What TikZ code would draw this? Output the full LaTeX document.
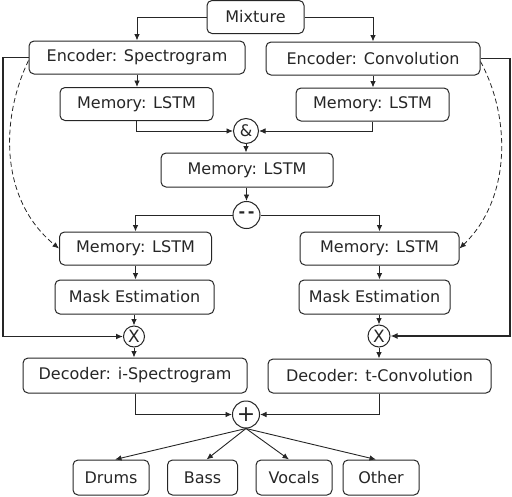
\documentclass[tikz,border=0pt]{standalone}
\usepackage{fontspec}
\setmainfont{DejaVu Sans}
\usetikzlibrary{arrows.meta}
\begin{document}
\begin{tikzpicture}[x=1pt,y=-1pt,
 box/.style={draw=black!85, rounded corners=5pt, line width=1pt, inner sep=0pt,
   font=\fontsize{16}{18}\selectfont, text=black!85},
 op/.style={draw=black!85, circle, line width=1pt, inner sep=0pt,
   font=\fontsize{16}{18}\selectfont, text=black!85},
 arr/.style={-{Latex[length=6.5pt,width=5.5pt]}, line width=0.9pt, draw=black!85},
 fb/.style={-{Latex[length=7pt,width=6pt]}, line width=1.6pt, draw=black!85},
 dsh/.style={-{Latex[length=6.5pt,width=5.5pt]}, line width=0.8pt, dash pattern=on 5pt off 3pt, draw=black!85},
]
\useasboundingbox (0,0) rectangle (512,496);
\node[box, minimum width=97pt, minimum height=33pt] (mix) at (255.5,17) {Mixture};
\node[box, minimum width=216pt, minimum height=33pt] (es) at (137,57.5) {Encoder: Spectrogram};
\node[box, minimum width=214pt, minimum height=33pt] (ec) at (373,58.5) {Encoder: Convolution};
\node[box, minimum width=153pt, minimum height=33pt] (ml) at (136.5,104) {Memory: LSTM};
\node[box, minimum width=153pt, minimum height=33pt] (mr) at (372.5,104.5) {Memory: LSTM};
\node[op, minimum size=25pt] (amp) at (246,131) {\&};
\node[box, minimum width=172pt, minimum height=34pt] (mc) at (247,170) {Memory: LSTM};
\node[op, minimum size=27pt] (dd) at (246.5,215) {\textbf{-\,-}};
\node[box, minimum width=152pt, minimum height=33pt] (ml2) at (135.5,248.5) {Memory: LSTM};
\node[box, minimum width=159pt, minimum height=33pt] (mr2) at (379.5,248.5) {Memory: LSTM};
\node[box, minimum width=159pt, minimum height=34pt] (mk1) at (134.5,297) {Mask Estimation};
\node[box, minimum width=151pt, minimum height=34pt] (mk2) at (374.5,297) {Mask Estimation};
\node[op, minimum size=21pt, font=\fontsize{17}{18}\selectfont] (x1) at (134,336.5) {X};
\node[op, minimum size=22pt, font=\fontsize{17}{18}\selectfont] (x2) at (379,336) {X};
\node[box, minimum width=224pt, minimum height=35pt] (d1) at (135,375.5) {Decoder: i-Spectrogram};
\node[box, minimum width=223pt, minimum height=34pt] (d2) at (379.5,376) {Decoder: t-Convolution};
\node[op, minimum size=27pt, font=\fontsize{22}{22}\selectfont] (plus) at (246,414.5) {+};
\node[box, minimum width=76pt, minimum height=35pt] (o1) at (111,477.5) {Drums};
\node[box, minimum width=70pt, minimum height=35pt] (o2) at (202.5,477.5) {Bass};
\node[box, minimum width=76pt, minimum height=35pt] (o3) at (294,477.5) {Vocals};
\node[box, minimum width=76pt, minimum height=35pt] (o4) at (381,477.5) {Other};
\coordinate (lft) at (3,0);
\coordinate (rgt) at (510,0);
% top
\draw[arr] (mix.west) -| (es.north);
\draw[arr] (mix.east) -| (ec.north);
\draw[arr] (es.south) -- (es.south |- ml.north);
\draw[arr] (ec.south) -- (ec.south |- mr.north);
\draw[arr] (ml.south) |- (amp.west);
\draw[arr] (mr.south) |- (amp.east);
\draw[arr] (amp.south) -- (amp.south |- mc.north);
\draw[arr] (mc.south -| dd.north) -- (dd.north);
\draw[arr] (dd.west) -| (ml2.north);
\draw[arr] (dd.east) -| (mr2.north);
% left branch
\draw[arr] (ml2.south) -- (ml2.south |- mk1.north);
\draw[arr] (x1.north |- mk1.south) -- (x1.north);
\draw[arr] (x1.south) -- (x1.south |- d1.north);
% right branch
\draw[arr] (mr2.south) -- (mr2.south |- mk2.north);
\draw[arr] (x2.north |- mk2.south) -- (x2.north);
\draw[arr] (x2.south) -- (x2.south |- d2.north);
% feedback
\draw[fb] (es.west) -- (es.west -| lft) |- (x1.west);
\draw[fb] (ec.east) -- (ec.east -| rgt) |- (x2.east);
\draw[dsh] ([yshift=-3pt]es.west) .. controls (0,120) and (0,200) .. (ml2.west);
\draw[dsh] ([yshift=-3pt]ec.east) .. controls (512,120) and (510,200) .. (mr2.east);
% decoders
\draw[arr] (d1.south) |- (plus.west);
\draw[arr] (d2.south) |- (plus.east);
% outputs
\draw[arr] (plus.south) -- ([xshift=4pt]o1.north);
\draw[arr] (plus.south) -- ([xshift=4pt]o2.north);
\draw[arr] (plus.south) -- ([xshift=-5pt]o3.north);
\draw[arr] (plus.south) -- ([xshift=-5pt]o4.north);
\end{tikzpicture}
\end{document}
